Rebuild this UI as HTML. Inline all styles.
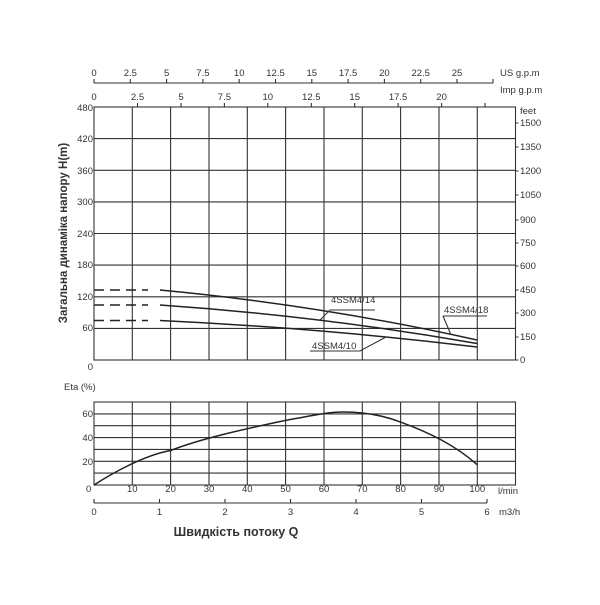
<!DOCTYPE html>
<html><head><meta charset="utf-8"><style>
body{margin:0;background:#fff}
svg text{font-family:"Liberation Sans","DejaVu Sans",sans-serif;fill:#333;font-size:9.5px}
</style></head><body>
<svg width="600" height="600" viewBox="0 0 600 600" xmlns="http://www.w3.org/2000/svg">
<rect width="600" height="600" fill="#fff"/>
<g stroke="#333" stroke-width="1.1" fill="none">
<!-- upper grid -->
<rect x="94" y="107" width="421.5" height="253"/>
<path d="M132.3 107V360M170.6 107V360M209 107V360M247.3 107V360M285.6 107V360M324 107V360M362.3 107V360M400.6 107V360M439 107V360M477.3 107V360"/>
<path d="M94 138.6H515.5M94 170.3H515.5M94 201.9H515.5M94 233.5H515.5M94 265.1H515.5M94 296.8H515.5M94 328.4H515.5"/>
<!-- US gpm axis -->
<path d="M94 83H493M94 83v-4M130.3 83v-4M166.6 83v-4M202.9 83v-4M239.2 83v-4M275.5 83v-4M311.8 83v-4M348.1 83v-4M384.4 83v-4M420.7 83v-4M457 83v-4M493 83v-4"/>
<!-- Imp ticks -->
<path d="M137.5 107v-4M181 107v-4M224.4 107v-4M267.8 107v-4M311.3 107v-4M354.7 107v-4M398.1 107v-4M441.6 107v-4M485 107v-4"/>
<!-- feet ticks -->
<path d="M515.5 123h3M515.5 147h3M515.5 171h3M515.5 195h3M515.5 220h3M515.5 243h3M515.5 266h3M515.5 290h3M515.5 313h3M515.5 337h3M515.5 360h3"/>
<!-- curves -->
<g stroke-width="1.5" stroke="#222">
<path d="M94 290H148" stroke-dasharray="10,6"/>
<path d="M94 305H148" stroke-dasharray="10,6"/>
<path d="M94 320.5H148" stroke-dasharray="10,6"/>
<path d="M160 290 Q320 305 477 340"/>
<path d="M160 305 Q320 316 477 343.5"/>
<path d="M160 320.5 Q320 328 477 347"/>
</g>
<!-- leaders -->
<path d="M330 310H375M330 310L320 320"/>
<path d="M443 316H487M443 316L451 335"/>
<path d="M310 351H360L386 337"/>
<!-- lower grid -->
<rect x="94" y="402" width="421.5" height="83"/>
<path d="M132.3 402V485M170.6 402V485M209 402V485M247.3 402V485M285.6 402V485M324 402V485M362.3 402V485M400.6 402V485M439 402V485M477.3 402V485"/>
<path d="M94 413.9H515.5M94 425.7H515.5M94 437.6H515.5M94 449.4H515.5M94 461.3H515.5M94 473.1H515.5"/>
<path d="M94 503H487M94 503v-4M159.5 503v-4M225 503v-4M290.5 503v-4M356 503v-4M421.5 503v-4M487 503v-4"/>
<path stroke-width="1.5" stroke="#222" d="M94 485 C120 468 150 454 170.6 450.5 C200 439 240 430 285.6 420.4 C320 414 330 412 343 412 C360 412 380 414 400.6 422.1 C430 433 455 445 477.3 464.8"/>
</g>
<!-- US gpm labels -->
<g text-anchor="middle">
<text x="94" y="76">0</text><text x="130.3" y="76">2.5</text><text x="166.6" y="76">5</text><text x="202.9" y="76">7.5</text><text x="239.2" y="76">10</text><text x="275.5" y="76">12.5</text><text x="311.8" y="76">15</text><text x="348.1" y="76">17.5</text><text x="384.4" y="76">20</text><text x="420.7" y="76">22.5</text><text x="457" y="76">25</text>
<text x="94" y="100">0</text><text x="137.5" y="100">2.5</text><text x="181" y="100">5</text><text x="224.4" y="100">7.5</text><text x="267.8" y="100">10</text><text x="311.3" y="100">12.5</text><text x="354.7" y="100">15</text><text x="398.1" y="100">17.5</text><text x="441.6" y="100">20</text>
</g>
<text x="500" y="76">US g.p.m</text>
<text x="500" y="93">Imp g.p.m</text>
<text x="520" y="114">feet</text>
<g>
<text x="520" y="126">1500</text><text x="520" y="150">1350</text><text x="520" y="174">1200</text><text x="520" y="198">1050</text><text x="520" y="223">900</text><text x="520" y="246">750</text><text x="520" y="269">600</text><text x="520" y="293">450</text><text x="520" y="316">300</text><text x="520" y="340">150</text><text x="520" y="363">0</text>
</g>
<g text-anchor="end">
<text x="93" y="111">480</text><text x="93" y="142">420</text><text x="93" y="174">360</text><text x="93" y="205">300</text><text x="93" y="237">240</text><text x="93" y="268">180</text><text x="93" y="300">120</text><text x="93" y="331">60</text><text x="93" y="370">0</text>
<text x="93" y="417">60</text><text x="93" y="441">40</text><text x="93" y="465">20</text>
</g>
<text x="64" y="390">Eta (%)</text>
<text x="86" y="492">0</text>
<g text-anchor="middle">
<text x="132.3" y="492">10</text><text x="170.6" y="492">20</text><text x="209" y="492">30</text><text x="247.3" y="492">40</text><text x="285.6" y="492">50</text><text x="324" y="492">60</text><text x="362.3" y="492">70</text><text x="400.6" y="492">80</text><text x="439" y="492">90</text><text x="477.3" y="492">100</text>
<text x="94" y="515">0</text><text x="159.5" y="515">1</text><text x="225" y="515">2</text><text x="290.5" y="515">3</text><text x="356" y="515">4</text><text x="421.5" y="515">5</text><text x="487" y="515">6</text>
</g>
<text x="498" y="494">l/min</text>
<text x="499" y="515">m3/h</text>
<text x="331" y="303" font-size="8.5">4SSM4/14</text>
<text x="444" y="313" font-size="8.5">4SSM4/18</text>
<text x="312" y="349" font-size="8.5">4SSM4/10</text>
<text x="236" y="536" text-anchor="middle" style="font-size:12.5px;font-weight:bold;fill:#333">Швидкість потоку Q</text>
<text transform="translate(67 233) rotate(-90)" text-anchor="middle" style="font-size:11.5px;font-weight:bold;fill:#333">Загальна динаміка напору H(m)</text>
</svg>
</body></html>
